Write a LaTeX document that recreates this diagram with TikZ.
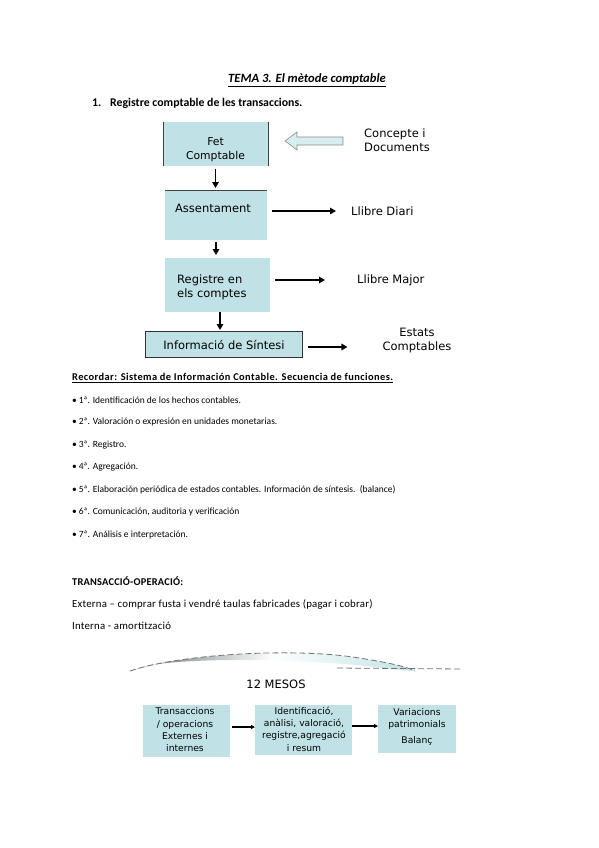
\documentclass[tikz,border=0pt]{standalone}
\usepackage{fontspec}
\setmainfont{Carlito}
\newfontfamily\vf{DejaVu Sans}
\usetikzlibrary{arrows.meta}
\definecolor{boxc}{RGB}{192,226,230}
\definecolor{boxl}{RGB}{214,238,240}
\begin{document}
\begin{tikzpicture}[x=1pt,y=-1pt,
  box/.style={fill=boxc, draw=none, inner sep=0pt, outer sep=0pt},
  vt/.style={font=\vf\fontsize{11.5}{14}\selectfont, inner sep=0pt, align=center},
  vtl/.style={font=\vf\fontsize{11.5}{14}\selectfont, inner sep=0pt, align=left, anchor=west},
  vts/.style={font=\vf\fontsize{9.2}{12.3}\selectfont, inner sep=0pt, align=center},
  lt/.style={font=\fontsize{9.5}{11}\selectfont, inner sep=0pt, anchor=west},
  blk/.style={-{Triangle[length=6pt,width=6.5pt]}, line width=1.8pt},
  thn/.style={-{Triangle[length=4pt,width=4pt]}, line width=1.1pt},
  edg/.style={draw=black!75, line width=0.9pt}]
\useasboundingbox (0,0) rectangle (599,848);
\fill[white] (0,0) rectangle (599,848);

% title
\node[font=\bfseries\itshape\fontsize{12.6}{14}\selectfont, inner sep=0pt] (title) at (307,80) {\underline{TEMA 3. El mètode comptable}};
\node[font=\bfseries\fontsize{11.8}{13}\selectfont, inner sep=0pt, anchor=west] (h1n) at (92,103) {1.};
\node[font=\bfseries\fontsize{11.8}{13}\selectfont, inner sep=0pt, anchor=west] (h1) at (110,103) {Registre comptable de les transaccions.};

% flow boxes
\node[box, minimum width=105pt, minimum height=44pt] (fet) at (215.5,144) {};
\draw[edg] (fet.north west) -- (fet.south west) (fet.north east) -- (fet.south east);
\node[vt, font=\vf\fontsize{10.8}{14}\selectfont] (fett) at (215.5,150) {Fet\\Comptable};

\node[box, minimum width=102pt, minimum height=50pt] (assent) at (216,215) {};
\draw[edg] (assent.north west) -- (assent.north east);
\node[vt] (assentt) at (213,208) {Assentament};

\node[box, minimum width=105pt, minimum height=54pt] (reg) at (217.5,285) {};
\node[vtl] (regt) at (177,287) {Registre en\\els comptes};

\node[box, draw=black!80, line width=0.8pt, minimum width=157pt, minimum height=26pt] (info) at (223.5,344) {};
\node[vt] (infot) at (224,345) {Informació de Síntesi};

% right labels
\node[vtl] (conc) at (364,140) {Concepte i\\Documents};
\node[vtl] (diari) at (351,211) {Llibre Diari};
\node[vtl] (major) at (357,280) {Llibre Major};
\node[vt] (estats) at (417,341) {Estats\\Comptables};

% hollow arrow into Fet Comptable
\draw[fill=boxl, draw=black!45, line width=0.6pt]
  (285,141) -- (297,132) -- (297,137) -- (343,137) -- (343,145) -- (297,145) -- (297,150) -- cycle;

% black arrows
\draw[blk, shorten <=3pt, shorten >=2pt] (fet.south) -- (fet.south |- assent.north);
\draw[blk, shorten <=2pt, shorten >=3pt] (assent.south) -- (assent.south |- reg.north);
\draw[blk, shorten <=0pt, shorten >=1pt] ([xshift=2.5pt]reg.south) -- ([xshift=2.5pt]reg.south |- info.north);
\draw[blk, shorten <=5pt, shorten >=15pt] (assent.east |- diari.west) -- (diari.west);
\draw[blk, shorten <=5pt, shorten >=32pt] (reg.east |- major.west) -- (major.west);
\draw[blk, shorten <=6pt, shorten >=35pt] ([yshift=-3pt]info.east) -- ([yshift=-3pt]info.east -| estats.west);

% Recordar list
\node[lt, font=\bfseries\fontsize{10.4}{12}\selectfont\addfontfeatures{LetterSpace=4}] (rec) at (72,378) {\underline{Recordar: Sistema de Información Contable. Secuencia de funciones.}};
\node[lt] (r1) at (72,400) {•\hspace{2pt}1ª. Identificación de los hechos contables.};
\node[lt] (r2) at (72,422) {•\hspace{2pt}2ª. Valoración o expresión en unidades monetarias.};
\node[lt] (r3) at (72,445) {•\hspace{2pt}3ª. Registro.};
\node[lt] (r4) at (72,467) {•\hspace{2pt}4ª. Agregación.};
\node[lt] (r5) at (72,490) {•\hspace{2pt}5ª. Elaboración periódica de estados contables. Información de síntesis.\ \ (balance)};
\node[lt] (r6) at (72,512) {•\hspace{2pt}6ª. Comunicación, auditoria y verificación};
\node[lt] (r7) at (72,535) {•\hspace{2pt}7ª. Análisis e interpretación.};

\node[lt, font=\bfseries\fontsize{10.4}{12}\selectfont\addfontfeatures{LetterSpace=2}] (tr) at (72,581) {TRANSACCIÓ-OPERACIÓ:};
\node[lt, font=\fontsize{10.8}{12}\selectfont\addfontfeatures{LetterSpace=2}] (ext) at (72,604) {Externa – comprar fusta i vendré taulas fabricades (pagar i cobrar)};
\node[lt, font=\fontsize{10.8}{12}\selectfont\addfontfeatures{LetterSpace=2}] (int) at (72,626) {Interna - amortització};

% curved arrow
\shade[left color=black!50!boxc, right color=boxc, middle color=white]
  (130,671) .. controls (180,654) and (290,648) .. (353,657) .. controls (385,662) and (405,666) .. (415,671)
  -- (400,670) .. controls (330,660) and (210,656) .. (150,665) -- cycle;
\draw[black!55, dash pattern=on 6pt off 3pt, line width=0.8pt]
  (130,671) .. controls (180,654) and (290,648) .. (353,657) .. controls (385,662) and (405,666) .. (415,671);
\draw[black!55, dash pattern=on 6pt off 3pt, line width=0.8pt] (337,668) -- (463,669);

\node[vt] (mesos) at (276,684) {12 MESOS};

% bottom boxes
\node[box, minimum width=87pt, minimum height=52pt] (b1) at (186.5,731) {};
\node[vts] (b1t) at (185,730) {Transaccions\\/ operacions\\Externes i\\internes};
\node[box, minimum width=97pt, minimum height=50pt] (b2) at (303.5,730) {};
\node[vts] (b2t) at (304,729) {Identificació,\\anàlisi, valoració,\\registre,agregació\\i resum};
\node[box, minimum width=78pt, minimum height=48pt] (b3) at (417,729) {};
\node[vts] (b3t) at (417,727) {Variacions\\patrimonials\\[4pt]Balanç};

\draw[thn, shorten <=2pt] ([yshift=4pt]b1.east) -- ([yshift=4pt]b1.east -| b2.west);
\draw[thn] ([yshift=4pt]b2.east) -- ([yshift=4pt]b2.east -| b3.west);
\end{tikzpicture}
\end{document}
